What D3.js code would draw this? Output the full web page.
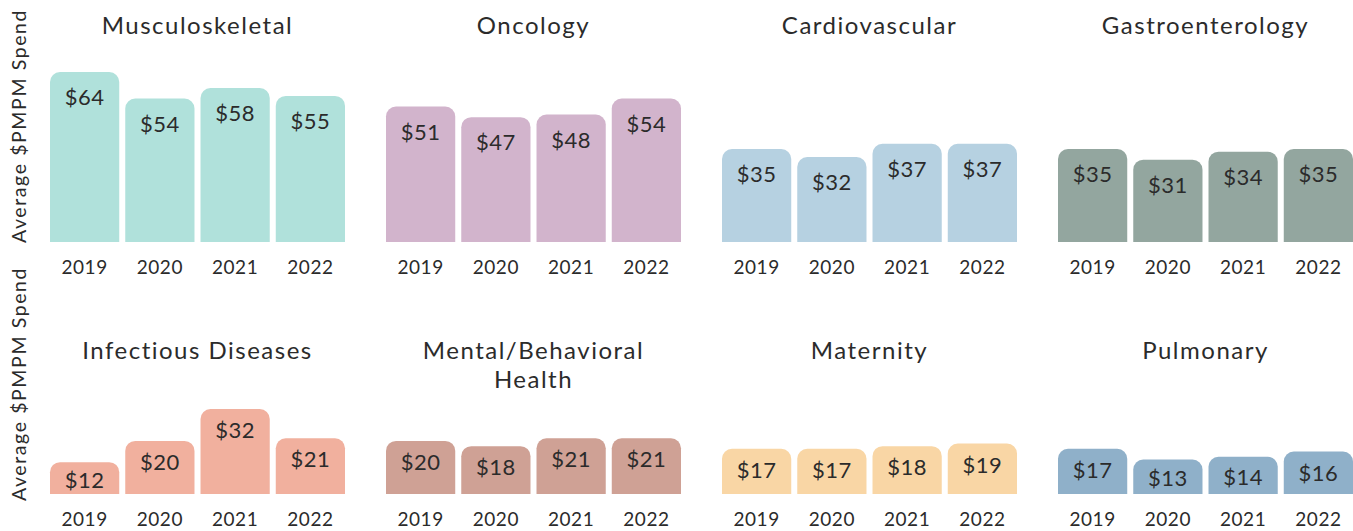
<!DOCTYPE html>
<html><head><meta charset="utf-8">
<script src="https://cdn.jsdelivr.net/npm/d3@7"></script>
<style>
html,body{margin:0;padding:0;background:#fff;}
svg{display:block;font-family:"Lato","Open Sans",sans-serif;}
</style></head>
<body>
<svg id="chart" width="1353" height="531"></svg>
<script>
const years = ["2019","2020","2021","2022"];
const categories = ["Musculoskeletal","Oncology","Cardiovascular","Gastroenterology",
  "Infectious Diseases","Mental/Behavioral Health","Maternity","Pulmonary"];
const titleLines = [["Musculoskeletal"],["Oncology"],["Cardiovascular"],["Gastroenterology"],
  ["Infectious Diseases"],["Mental/Behavioral","Health"],["Maternity"],["Pulmonary"]];
const musculoskeletal = [64,54,58,55];
const oncology = [51,47,48,54];
const cardiovascular = [35,32,37,37];
const gastroenterology = [35,31,34,35];
const infectious = [12,20,32,21];
const mental = [20,18,21,21];
const maternity = [17,17,18,19];
const pulmonary = [17,13,14,16];
const seriesValues = [musculoskeletal,oncology,cardiovascular,gastroenterology,infectious,mental,maternity,pulmonary];
const colors = ["#b0e1db","#d2b4cc","#b6d1e1","#93a69f","#f1b09e","#cfa195","#f9d6a5","#8fb0c9"];
const yAxisTitle = "Average $PMPM Spend";

const svg = d3.select("#chart");
const textColor = "#2b2b2b";
const panelX0 = 50, panelStep = 336, panelW = 295;
const baselines = [242, 494];
const titleY = [34, 359];
const labelOffset = [33, 29];
const pxPerUnit = 2.656;
const y = d3.scaleLinear().domain([0, 64]).range([0, 64*pxPerUnit]);
const r = 10;

function topRounded(x, yTop, w, h, rad) {
  const p = d3.path();
  const rr = Math.min(rad, h, w/2);
  p.moveTo(x, yTop + h);
  p.lineTo(x, yTop + rr);
  p.arcTo(x, yTop, x + rr, yTop, rr);
  p.lineTo(x + w - rr, yTop);
  p.arcTo(x + w, yTop, x + w, yTop + rr, rr);
  p.lineTo(x + w, yTop + h);
  p.closePath();
  return p.toString();
}

// y-axis titles
baselines.forEach((b, row) => {
  const cy = row === 0 ? 126 : 384;
  svg.append("text")
    .attr("transform", `translate(26,${cy}) rotate(-90)`)
    .attr("text-anchor","middle")
    .attr("fill", textColor)
    .attr("font-size", 19.5)
    .attr("letter-spacing", 1.6)
    .text(yAxisTitle);
});

categories.forEach((cat, i) => {
  const row = Math.floor(i/4), col = i % 4;
  const x0 = panelX0 + col*panelStep;
  const base = baselines[row];
  const x = d3.scaleBand().domain(years).range([x0, x0 + panelW]).paddingInner(0.08).paddingOuter(0);
  const g = svg.append("g");
  const vals = seriesValues[i];

  // title
  const t = g.append("text").attr("text-anchor","middle").attr("fill", textColor)
    .attr("font-size", 24).attr("letter-spacing", 1.5)
    .attr("x", x0 + panelW/2).attr("y", titleY[row]);
  titleLines[i].forEach((ln, k) => {
    t.append("tspan").attr("x", x0 + panelW/2).attr("dy", k === 0 ? 0 : 29).text(ln);
  });

  // bars
  g.selectAll("path.bar").data(vals).join("path")
    .attr("class","bar")
    .attr("fill", colors[i])
    .attr("d", (d, k) => topRounded(x(years[k]), base - y(d), x.bandwidth(), y(d), r));

  // value labels
  g.selectAll("text.val").data(vals).join("text")
    .attr("class","val")
    .attr("text-anchor","middle")
    .attr("fill", textColor)
    .attr("font-size", 22)
    .attr("letter-spacing", 0.5)
    .attr("x", (d, k) => x(years[k]) + x.bandwidth()/2)
    .attr("y", d => base - y(d) + Math.min(labelOffset[row], y(d)/2 + 9.5))
    .text(d => "$" + d);

  // x axis labels
  const axis = d3.axisBottom(x).tickSize(0).tickPadding(0);
  const ag = g.append("g").attr("transform", `translate(0,${base})`).call(axis);
  ag.select(".domain").remove();
  ag.selectAll("text").attr("font-size", 19).attr("fill", textColor)
    .attr("font-family", "Lato, 'Open Sans', sans-serif").attr("letter-spacing", 0.5)
    .attr("dy", 0).attr("y", 32);
});
</script>
</body></html>
